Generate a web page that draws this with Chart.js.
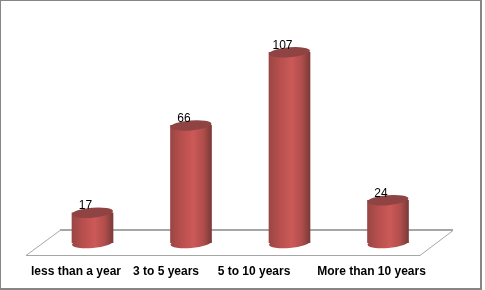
<!DOCTYPE html>
<html>
<head>
<meta charset="utf-8">
<style>
  html, body { margin: 0; padding: 0; background: #fff; }
  canvas { display: block; }
</style>
<script src="https://cdn.jsdelivr.net/npm/chart.js@4/dist/chart.umd.js"></script>
</head>
<body>
<canvas id="yearsChart" width="485" height="290"></canvas>
<script>
const categories = ['less than a year', '3 to 5 years', '5 to 10 years', 'More than 10 years'];
const counts = [17, 66, 107, 24];

// the original labels sit left of their bars, by uneven amounts
const labelShift = [-16.5, -25, -35.5, -16.5];

const BAR_W = 41;
const ELLIPSE_RY = 5;
const TILT = -0.08;

const bodyGradient = (context) => {
    const chart = context.chart;
    if (!chart.chartArea) return '#c55050';
    const cx = chart.scales.x.getPixelForValue(context.dataIndex);
    const g = chart.ctx.createLinearGradient(cx - BAR_W / 2, 0, cx + BAR_W / 2, 0);
    g.addColorStop(0, '#9a4644');
    g.addColorStop(0.25, '#b54f4d');
    g.addColorStop(0.55, '#cc5957');
    g.addColorStop(0.8, '#b04e4c');
    g.addColorStop(1, '#7a3a38');
    return g;
};

const frameAndFloor = {
    id: 'frameAndFloor',
    afterLayout(chart) {
        // move the tick labels the library has laid out
        chart.scales.x.getLabelItems().forEach((item, i) => {
            item.options.translation[0] += labelShift[i];
        });
    },
    beforeDatasetsDraw(chart) {
        const { ctx } = chart;
        ctx.save();
        // chart frame
        ctx.strokeStyle = '#868686';
        ctx.lineWidth = 2;
        ctx.strokeRect(0, 0, 481, 289);
        // floor
        ctx.strokeStyle = '#a6a6a6';
        ctx.lineWidth = 1;
        ctx.beginPath();
        ctx.moveTo(60, 230.5);
        ctx.lineTo(26, 255.5);
        ctx.lineTo(420, 255.5);
        ctx.lineTo(453, 230.5);
        ctx.stroke();
        ctx.lineWidth = 2;
        ctx.beginPath();
        ctx.moveTo(60, 230);
        ctx.lineTo(453, 230);
        ctx.stroke();
        // round bottoms of the bars
        chart.getDatasetMeta(0).data.forEach((bar) => {
            ctx.fillStyle = bar.options.backgroundColor;
            ctx.beginPath();
            ctx.ellipse(bar.x, bar.base, BAR_W / 2, ELLIPSE_RY, TILT, 0, Math.PI * 2);
            ctx.fill();
        });
        ctx.restore();
    },
    afterDatasetsDraw(chart) {
        const { ctx } = chart;
        ctx.save();
        chart.getDatasetMeta(0).data.forEach((bar, i) => {
            // top cap
            ctx.fillStyle = '#8f4443';
            ctx.beginPath();
            ctx.ellipse(bar.x, bar.y, BAR_W / 2, ELLIPSE_RY, TILT, 0, Math.PI * 2);
            ctx.fill();
            // value label
            ctx.fillStyle = '#000';
            ctx.font = '12px "Liberation Sans", Arial, sans-serif';
            ctx.textAlign = 'center';
            ctx.textBaseline = 'middle';
            ctx.fillText(String(counts[i]), bar.x - 7, bar.y - 7);
        });
        ctx.restore();
    }
};

new Chart(document.getElementById('yearsChart'), {
    type: 'bar',
    data: {
        labels: categories,
        datasets: [{
            data: counts,
            backgroundColor: bodyGradient,
            borderWidth: 0,
            barThickness: BAR_W
        }]
    },
    options: {
        responsive: false,
        animation: false,
        layout: { padding: { left: 43.25, right: 47.75, top: 47, bottom: 11 } },
        plugins: { legend: { display: false }, tooltip: { enabled: false } },
        scales: {
            x: {
                afterFit: (scale) => { scale.height = 36; },
                grid: { display: false, drawTicks: false },
                border: { display: false },
                ticks: {
                    color: '#000',
                    padding: 21,
                    maxRotation: 0,
                    autoSkip: false,
                    font: { family: '"Liberation Sans", Arial, sans-serif', size: 12, weight: 'bold' }
                }
            },
            y: { display: false, min: 0, max: 110 }
        }
    },
    plugins: [frameAndFloor]
});
</script>
</body>
</html>
